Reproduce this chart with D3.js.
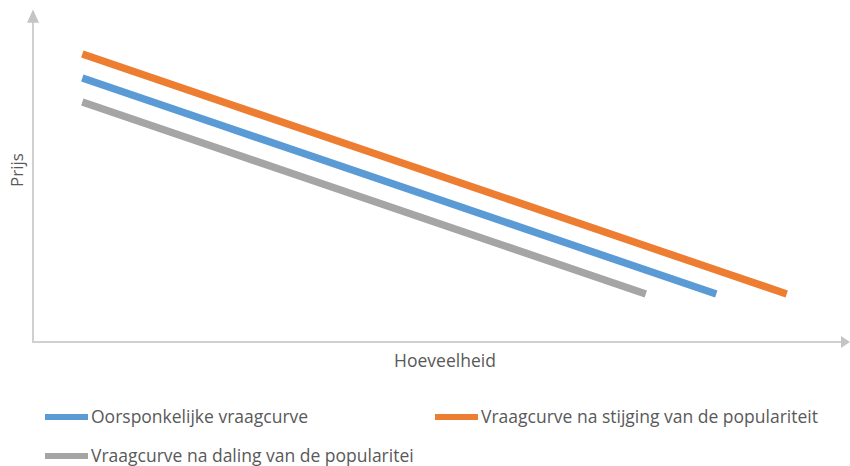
<!DOCTYPE html>
<html>
<head>
<meta charset="utf-8">
<script src="https://cdn.jsdelivr.net/npm/d3@7"></script>
<style>
  body { margin: 0; background: #fff; }
  svg { display: block; font-family: "Open Sans", "Liberation Sans", sans-serif; }
</style>
</head>
<body>
<div id="chart"></div>
<script>
// data: price per quantity step
const origineel = [19, 18, 17, 16, 15, 14, 13, 12, 11, 10];
const stijging = [20, 19, 18, 17, 16, 15, 14, 13, 12, 11, 10];
const daling = [18, 17, 16, 15, 14, 13, 12, 11, 10];
const seriesNames = ['Oorsponkelijke vraagcurve', 'Vraagcurve na stijging van de populariteit', 'Vraagcurve na daling van de popularitei'];
const seriesColors = ['#5B9BD5', '#ED7D31', '#A5A5A5'];

const width = 850, height = 466;
const svg = d3.select('#chart').append('svg')
	.attr('width', width)
	.attr('height', height);

let x = d3.scaleLinear().domain([-0.7, 10.87]).range([33, 848]);
let y = d3.scaleLinear().domain([8, 22]).range([342, 6]);

// axes with arrow heads
const axisColor = '#d0d0d0';
svg.append('line')
	.attr('x1', x(-0.7)).attr('y1', y(8) + 1)
	.attr('x2', x(-0.7)).attr('y2', y(21.5))
	.attr('stroke', axisColor).attr('stroke-width', 2);
svg.append('line')
	.attr('x1', x(-0.7) - 1).attr('y1', y(8))
	.attr('x2', 843).attr('y2', y(8))
	.attr('stroke', axisColor).attr('stroke-width', 2);
svg.append('path')
	.attr('d', `M${x(-0.7) - 6},${y(21.3)} L${x(-0.7)},${y(21.85)} L${x(-0.7) + 6},${y(21.3)} Z`)
	.attr('fill', '#c4c4c4');
svg.append('path')
	.attr('d', `M841,${y(8) - 6} L850,${y(8)} L841,${y(8) + 6} Z`)
	.attr('fill', '#c4c4c4');

// axis titles
svg.append('text')
	.attr('transform', `translate(23,170) rotate(-90)`)
	.attr('text-anchor', 'middle')
	.attr('fill', '#595959')
	.style('font-size', '17px')
	.text('Prijs');
svg.append('text')
	.attr('x', 445).attr('y', 367)
	.attr('text-anchor', 'middle')
	.attr('fill', '#595959')
	.style('font-size', '17.5px')
	.text('Hoeveelheid');

// curves
const line = d3.line()
	.x((d, i) => x(i))
	.y(d => y(d));

[origineel, stijging, daling].forEach((values, k) => {
	svg.append('path')
		.datum(values)
		.attr('d', line)
		.attr('fill', 'none')
		.attr('stroke', seriesColors[k])
		.attr('stroke-width', 7.5);
});

// legend
const legendPos = [[45, 417], [435, 417], [45, 456]];
seriesNames.forEach((name, k) => {
	let g = svg.append('g').attr('transform', `translate(${legendPos[k][0]},${legendPos[k][1]})`);
	g.append('line')
		.attr('x1', 0).attr('x2', 43)
		.attr('y1', 0).attr('y2', 0)
		.attr('stroke', seriesColors[k])
		.attr('stroke-width', 6);
	g.append('text')
		.attr('x', 46).attr('y', 6)
		.attr('fill', '#595959')
		.style('font-size', '17.5px')
		.text(name);
});
</script>
</body>
</html>
